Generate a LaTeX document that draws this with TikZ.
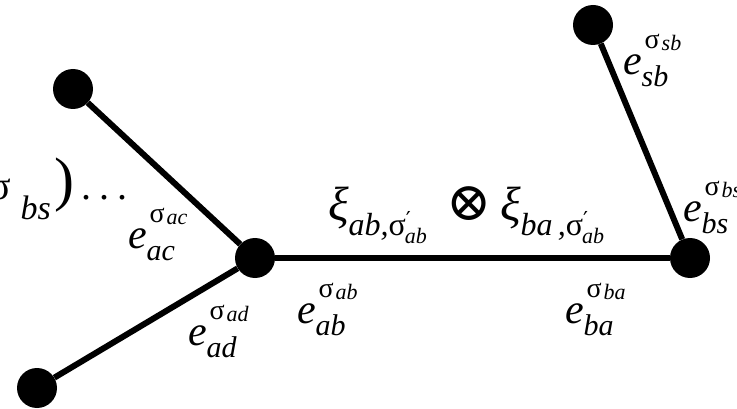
\documentclass[tikz,border=0pt]{standalone}
\usepackage{fontspec}
\setmainfont{Liberation Serif}
\newfontfamily\tms{Liberation Serif}
\newfontfamily\dvs{DejaVu Serif}
\newcommand{\fs}[1]{\fontsize{#1}{#1}\selectfont}
\newcommand{\elab}[2]{{\fs{42}\itshape e}\rlap{\raisebox{-12pt}{\fs{30}\itshape #1}}\kern3pt\raisebox{26pt}{\fs{28}σ\kern2pt\raisebox{-2pt}{\fs{22}\itshape #2}}}
\newcommand{\xisub}[1]{\raisebox{-15pt}{\fs{32}\itshape #1\upshape σ\raisebox{9pt}{\fs{22}\dvs ′}\kern-6pt\raisebox{-8pt}{\fs{22}\itshape ab}}}
\tikzset{
  dot/.style={circle, fill=black, minimum size=40pt, inner sep=0pt},
  edgeline/.style={line width=6pt},
  lbl/.style={inner sep=0pt, outer sep=0pt, font=\tms}
}
\begin{document}
\begin{tikzpicture}[x=1pt,y=-1pt]
\useasboundingbox (0,0) rectangle (737,409);
\clip (0,0) rectangle (737,409);
\node[dot] (a) at (255,258) {};
\node[dot] (b) at (690,258) {};
\node[dot] (c) at (73,89) {};
\node[dot] (d) at (37,388) {};
\node[dot] (s) at (593,25) {};
\draw[edgeline] (a) -- (c);
\draw[edgeline] (a) -- (d);
\draw[edgeline] (a) -- (b);
\draw[edgeline] (b) -- (s);
\node[lbl, anchor=base west] (lac) at (128,248) {\elab{ac}{ac}};
\node[lbl, anchor=base west] (lad) at (188,345) {\elab{ad}{ad}};
\node[lbl, anchor=base west] (lab) at (297,323) {\elab{ab}{ab}};
\node[lbl, anchor=base west] (lba) at (565,323) {\elab{ba}{ba}};
\node[lbl, anchor=base west] (lsb) at (623,75) {\elab{sb}{sb}};
\node[lbl, anchor=base west] (lbs) at (683,222) {\elab{bs}{bs}};
\node[lbl, anchor=base west] (xi) at (328,221) {{\fs{48}\itshape ξ}\xisub{ab,}\kern20pt{\fs{54}\dvs ⊗}\kern8pt{\fs{48}\itshape ξ}\xisub{ba\,,}};
\node[lbl, anchor=base west] (left) at (-10,200) {\fs{40}σ\kern9pt\raisebox{-20pt}{\fs{34}\itshape bs}\kern4pt{\fs{60})}\kern7pt.\kern8pt.\kern8pt.};
\end{tikzpicture}
\end{document}
